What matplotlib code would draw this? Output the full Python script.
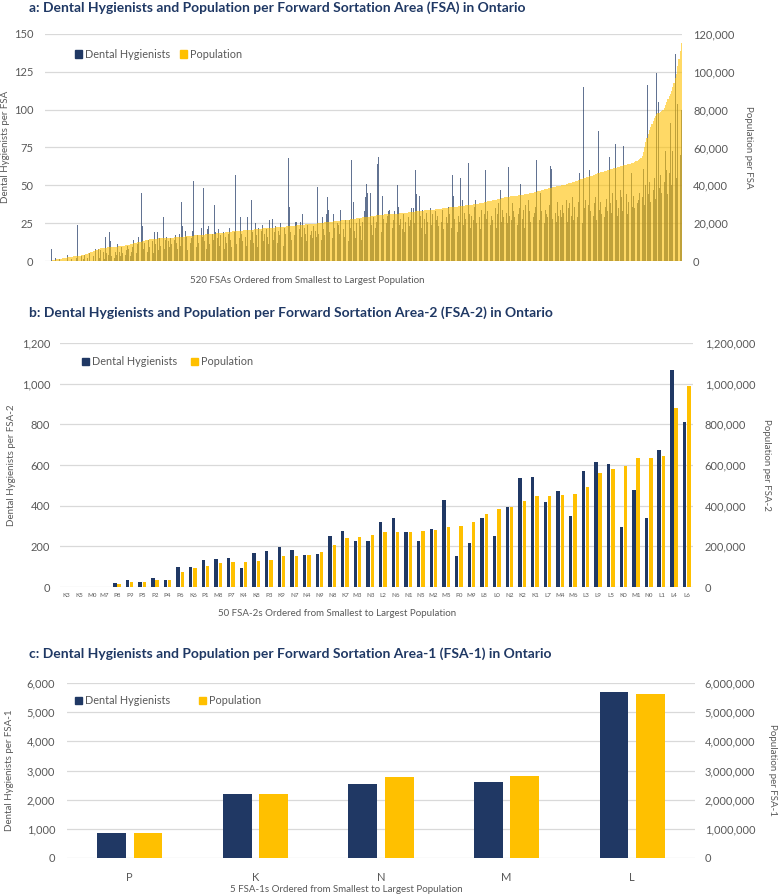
import matplotlib
matplotlib.use("Agg")
import matplotlib.pyplot as plt
import numpy as np
from matplotlib.ticker import FuncFormatter, MultipleLocator

plt.rcParams['font.family'] = ['Lato', 'DejaVu Sans']

NAVY = '#203864'
GOLD = '#FFC000'
TXT = '#595959'
TITLE = '#1F3864'
GRID = '#D9D9D9'

# ---- panel a: 520 FSAs (population in thousands) ----
fsa_pop_k = [
    0.0, 0.0, 0.0, 0.0, 0.1, 0.2, 0.3, 0.5, 0.6, 0.8, 0.9, 1.0, 1.1, 1.3, 1.4, 1.5, 1.6, 1.8, 1.9, 2.0,
    2.1, 2.2, 2.3, 2.4, 2.5, 2.6, 2.7, 2.8, 2.9, 3.0, 3.1, 3.2, 3.4, 3.6, 3.8, 4.0, 4.3, 4.6, 4.9, 5.2,
    5.5, 5.8, 6.0, 6.3, 6.5, 6.7, 6.8, 6.9, 7.0, 7.0, 7.1, 7.2, 7.2, 7.3, 7.3, 7.4, 7.4, 7.5, 7.5, 7.6,
    7.7, 7.8, 7.9, 8.0, 8.1, 8.3, 8.4, 8.6, 8.7, 8.9, 9.0, 9.2, 9.3, 9.5, 9.6, 9.8, 10.0, 10.1, 10.3, 10.5,
    10.6, 10.8, 10.9, 11.1, 11.2, 11.4, 11.5, 11.6, 11.7, 11.7, 11.8, 11.8, 11.9, 11.9, 12.0, 12.0, 12.1, 12.1, 12.2, 12.2,
    12.3, 12.3, 12.4, 12.4, 12.4, 12.5, 12.5, 12.6, 12.6, 12.7, 12.7, 12.8, 12.8, 12.9, 13.0, 13.0, 13.1, 13.2, 13.2, 13.3,
    13.4, 13.4, 13.5, 13.6, 13.6, 13.7, 13.8, 13.8, 13.9, 14.0, 14.0, 14.1, 14.2, 14.2, 14.3, 14.3, 14.4, 14.4, 14.5, 14.5,
    14.6, 14.7, 14.7, 14.8, 14.9, 15.0, 15.0, 15.1, 15.2, 15.3, 15.3, 15.4, 15.5, 15.6, 15.6, 15.7, 15.8, 15.9, 15.9, 16.0,
    16.1, 16.1, 16.2, 16.2, 16.3, 16.3, 16.4, 16.4, 16.5, 16.6, 16.6, 16.7, 16.8, 16.9, 16.9, 17.0, 17.1, 17.2, 17.2, 17.3,
    17.4, 17.4, 17.5, 17.5, 17.6, 17.6, 17.7, 17.7, 17.8, 17.8, 17.9, 17.9, 18.0, 18.0, 18.1, 18.2, 18.2, 18.3, 18.4, 18.5,
    18.5, 18.6, 18.6, 18.7, 18.7, 18.8, 18.9, 18.9, 19.0, 19.1, 19.1, 19.2, 19.3, 19.3, 19.4, 19.5, 19.5, 19.6, 19.7, 19.7,
    19.8, 19.8, 19.9, 20.0, 20.1, 20.1, 20.2, 20.3, 20.4, 20.4, 20.5, 20.6, 20.7, 20.8, 20.8, 20.9, 21.0, 21.1, 21.2, 21.3,
    21.4, 21.4, 21.5, 21.6, 21.7, 21.7, 21.8, 21.8, 21.9, 22.0, 22.1, 22.2, 22.3, 22.4, 22.5, 22.6, 22.7, 22.8, 22.9, 23.0,
    23.1, 23.2, 23.3, 23.4, 23.5, 23.6, 23.7, 23.8, 23.9, 24.0, 24.1, 24.2, 24.3, 24.3, 24.4, 24.5, 24.5, 24.6, 24.6, 24.7,
    24.7, 24.8, 24.8, 24.9, 24.9, 25.0, 25.0, 25.1, 25.1, 25.2, 25.2, 25.3, 25.4, 25.5, 25.6, 25.6, 25.7, 25.8, 25.9, 26.0,
    26.0, 26.1, 26.2, 26.3, 26.3, 26.4, 26.5, 26.6, 26.6, 26.7, 26.8, 26.8, 26.9, 26.9, 27.0, 27.1, 27.2, 27.2, 27.3, 27.4,
    27.5, 27.6, 27.6, 27.7, 27.8, 27.9, 28.0, 28.1, 28.1, 28.2, 28.3, 28.4, 28.5, 28.6, 28.6, 28.7, 28.8, 28.9, 29.0, 29.1,
    29.1, 29.2, 29.3, 29.4, 29.5, 29.6, 29.6, 29.7, 29.8, 29.9, 30.0, 30.1, 30.2, 30.3, 30.4, 30.5, 30.7, 30.9, 31.0, 31.2,
    31.3, 31.5, 31.6, 31.8, 31.9, 32.1, 32.2, 32.4, 32.5, 32.7, 32.8, 33.0, 33.1, 33.3, 33.4, 33.6, 33.7, 33.8, 33.9, 34.0,
    34.1, 34.2, 34.3, 34.4, 34.5, 34.6, 34.7, 34.8, 34.9, 35.0, 35.1, 35.2, 35.3, 35.4, 35.6, 35.7, 35.8, 36.0, 36.1, 36.3,
    36.5, 36.6, 36.8, 37.0, 37.2, 37.4, 37.6, 37.8, 38.0, 38.1, 38.3, 38.5, 38.7, 38.8, 39.0, 39.2, 39.3, 39.5, 39.6, 39.8,
    39.9, 40.0, 40.1, 40.2, 40.4, 40.6, 40.8, 41.0, 41.2, 41.4, 41.6, 41.8, 42.0, 42.2, 42.4, 42.7, 42.9, 43.2, 43.4, 43.7,
    43.9, 44.1, 44.3, 44.5, 44.7, 44.9, 45.1, 45.3, 45.6, 45.9, 46.1, 46.3, 46.6, 46.8, 47.0, 47.2, 47.4, 47.6, 47.8, 48.0,
    48.2, 48.4, 48.6, 48.8, 49.0, 49.2, 49.4, 49.6, 49.8, 50.0, 50.2, 50.4, 50.6, 50.8, 51.0, 51.2, 51.4, 51.5, 51.6, 51.8,
    52.0, 52.3, 52.6, 53.0, 53.4, 53.8, 54.4, 55.5, 57.5, 60.4, 62.8, 65.0, 67.0, 69.0, 71.0, 72.5, 74.0, 75.5, 76.5, 77.5,
    78.0, 78.5, 79.0, 79.4, 79.8, 81.0, 82.5, 84.0, 85.5, 87.0, 88.5, 90.0, 92.0, 94.0, 96.5, 99.0, 103.0, 107.0, 111.0, 115.5,
]

fsa_hyg = [
    0, 0, 5, 0, 0, 8, 21, 0, 2, 0, 0, 1, 0, 0, 0, 3, 0, 0, 4, 0,
    0, 1, 0, 0, 13, 2, 24, 0, 0, 3, 0, 1, 4, 0, 2, 0, 5, 6, 0, 3,
    0, 8, 4, 8, 2, 7, 3, 6, 1, 16, 5, 4, 19, 13, 3, 8, 2, 6, 4, 11,
    6, 3, 9, 5, 2, 4, 7, 10, 8, 3, 6, 9, 14, 70, 5, 11, 16, 9, 45, 23,
    8, 12, 43, 6, 14, 9, 28, 13, 5, 19, 11, 19, 7, 15, 10, 12, 29, 8, 14, 16,
    13, 9, 15, 11, 6, 14, 17, 12, 8, 18, 10, 39, 23, 11, 20, 16, 7, 19, 12, 15,
    20, 53, 14, 9, 17, 12, 20, 22, 16, 48, 13, 8, 21, 23, 11, 25, 18, 14, 37, 19,
    15, 21, 10, 17, 13, 19, 8, 16, 12, 18, 22, 14, 9, 20, 19, 57, 11, 49, 15, 29,
    18, 13, 21, 16, 10, 29, 31, 14, 40, 19, 12, 25, 17, 9, 22, 15, 20, 24, 13, 18,
    21, 16, 11, 27, 29, 28, 14, 19, 23, 12, 20, 17, 25, 15, 10, 22, 18, 38, 68, 36,
    19, 14, 23, 17, 26, 26, 12, 21, 26, 16, 31, 22, 18, 13, 24, 40, 17, 20, 15, 23,
    20, 16, 49, 18, 23, 14, 29, 21, 17, 31, 42, 34, 19, 59, 15, 31, 22, 12, 25, 24,
    18, 34, 66, 21, 16, 27, 36, 13, 27, 22, 67, 39, 20, 15, 25, 18, 28, 23, 14, 26,
    33, 42, 51, 45, 20, 45, 24, 17, 29, 22, 26, 64, 69, 37, 19, 43, 28, 52, 25, 30,
    33, 34, 51, 22, 27, 33, 53, 50, 36, 24, 28, 21, 31, 19, 26, 52, 29, 23, 27, 35,
    35, 25, 60, 44, 61, 43, 30, 22, 34, 28, 18, 32, 26, 29, 35, 24, 31, 20, 33, 27,
    30, 23, 40, 26, 34, 21, 60, 29, 25, 36, 31, 22, 57, 43, 28, 33, 19, 30, 26, 55,
    40, 24, 32, 28, 35, 65, 31, 22, 30, 27, 36, 40, 25, 33, 29, 21, 34, 26, 31, 60,
    28, 33, 36, 24, 30, 27, 74, 35, 22, 31, 38, 47, 26, 34, 29, 61, 32, 25, 62, 30,
    27, 38, 33, 29, 36, 24, 31, 35, 51, 28, 34, 22, 37, 30, 40, 33, 26, 35, 29, 32,
    36, 67, 30, 27, 45, 33, 38, 25, 34, 31, 29, 37, 63, 61, 28, 35, 32, 26, 39, 30,
    34, 29, 37, 32, 31, 40, 26, 35, 38, 30, 42, 27, 36, 33, 29, 39, 58, 31, 25, 115,
    35, 40, 28, 37, 60, 33, 73, 30, 38, 42, 27, 86, 34, 39, 31, 44, 29, 36, 41, 33,
    69, 38, 32, 45, 36, 77, 40, 30, 35, 47, 42, 33, 76, 37, 44, 31, 39, 41, 58, 36,
    43, 35, 48, 38, 40, 45, 94, 42, 61, 37, 50, 116, 44, 52, 39, 102, 47, 55, 41, 124,
    105, 48, 57, 45, 73, 52, 73, 60, 44, 58, 91, 50, 73, 62, 137, 55, 104, 98, 70, 100,
]

# ---- panel b: 50 FSA-2s ----
fsa2_labels = ['K3', 'K5', 'M0', 'M7', 'P8', 'P9', 'P5', 'P2', 'P4', 'P6',
               'K6', 'P1', 'M8', 'P7', 'K4', 'K8', 'P3', 'K9', 'N7', 'N4',
               'N9', 'N8', 'K7', 'M3', 'N3', 'L2', 'N6', 'N1', 'N5', 'M2',
               'M5', 'P0', 'M9', 'L8', 'L0', 'N2', 'K2', 'K1', 'L7', 'M4',
               'M6', 'L3', 'L9', 'L5', 'K0', 'M1', 'N0', 'L1', 'L4', 'L6']
fsa2_hyg = [0, 0, 0, 0, 21, 33, 26, 43, 35, 100,
            97, 131, 138, 145, 94, 168, 176, 196, 182, 156,
            160, 250, 275, 227, 225, 319, 337, 271, 227, 286,
            428, 151, 214, 340, 252, 395, 534, 539, 419, 474,
            350, 571, 613, 604, 294, 475, 340, 674, 1069, 812]
fsa2_pop = [0, 0, 0, 0, 15000, 25000, 26000, 33000, 33000, 76000,
            94000, 104000, 118000, 122000, 122000, 128000, 131000, 151000, 153000, 156000,
            174000, 206000, 243000, 245000, 255000, 271000, 271000, 271000, 276000, 280000,
            294000, 299000, 321000, 358000, 386000, 393000, 423000, 446000, 447000, 452000,
            457000, 492000, 559000, 580000, 595000, 633000, 636000, 645000, 880000, 990000]

# ---- panel c: 5 FSA-1s ----
fsa1_labels = ['P', 'K', 'N', 'M', 'L']
fsa1_hyg = [870, 2200, 2540, 2590, 5680]
fsa1_pop = [860000, 2200000, 2790000, 2800000, 5610000]

W, H = 778, 894
fig = plt.figure(figsize=(W / 100, H / 100), dpi=100)


def px_axes(l, t, r, b):
    return fig.add_axes([l / W, 1 - b / H, (r - l) / W, (b - t) / H])


def style(ax, ax2, lpad, rpad):
    for a in (ax, ax2):
        for s in a.spines.values():
            s.set_visible(False)
        a.tick_params(axis='y', length=0, labelsize=8, labelcolor=TXT)
    ax.tick_params(axis='y', pad=lpad)
    ax2.tick_params(axis='y', pad=rpad)
    ax.tick_params(axis='x', length=0)
    ax.set_axisbelow(True)
    ax.yaxis.grid(True, color=GRID, linewidth=0.9)
    ax.xaxis.grid(False)


comma = FuncFormatter(lambda v, p: f'{v:,.0f}')


def legend(ax, x, y, spacing):
    h1 = plt.Rectangle((0, 0), 1, 1, color=NAVY)
    h2 = plt.Rectangle((0, 0), 1, 1, color=GOLD)
    ax.legend([h1, h2], ['Dental Hygienists', 'Population'], ncol=2, frameon=False,
              loc='upper left', bbox_to_anchor=(x, y), borderaxespad=0, borderpad=0,
              handlelength=0.65, handleheight=0.65, handletextpad=0.3,
              columnspacing=spacing, fontsize=7.8, labelcolor=TXT)


def titles(y, text):
    fig.text(29 / W, 1 - y / H, text, fontsize=10, fontweight='bold', color=TITLE,
             ha='left', va='center')


# panel a
ax = px_axes(45, 34, 682, 261)
ax2 = ax.twinx()
xa = np.arange(len(fsa_hyg))
ax.bar(xa, fsa_hyg, width=0.7, color=NAVY, alpha=0.7, linewidth=0)
ax2.bar(xa, np.array(fsa_pop_k) * 1000, width=1.0, color=GOLD, alpha=0.6, linewidth=0)
ax.set_xlim(-0.5, len(fsa_hyg) - 0.5)
ax.set_ylim(0, 150)
ax2.set_ylim(0, 120000)
ax.yaxis.set_major_locator(MultipleLocator(25))
ax2.yaxis.set_major_locator(MultipleLocator(20000))
ax2.yaxis.set_major_formatter(comma)
ax.set_xticks([])
style(ax, ax2, 8.5, 8)
legend(ax2, 0.047, 0.935, 0.9)
titles(8, 'a: Dental Hygienists and Population per Forward Sortation Area (FSA) in Ontario')
fig.text(6 / W, 1 - 147 / H, 'Dental Hygienists per FSA', rotation=90, fontsize=7,
         color=TXT, ha='center', va='center')
fig.text(749 / W, 1 - 147 / H, 'Population per FSA', rotation=270, fontsize=7,
         color=TXT, ha='center', va='center')
fig.text(307 / W, 1 - 280 / H, '520 FSAs Ordered from Smallest to Largest Population',
         fontsize=7, color=TXT, ha='center', va='center')

# panel b
ax = px_axes(60, 343, 693, 587)
ax2 = ax.twinx()
xb = np.arange(len(fsa2_labels))
ax.bar(xb - 0.17, fsa2_hyg, width=0.27, color=NAVY, linewidth=0)
ax2.bar(xb + 0.17, fsa2_pop, width=0.27, color=GOLD, linewidth=0)
ax.set_xlim(-0.5, len(fsa2_labels) - 0.5)
ax.set_ylim(0, 1200)
ax2.set_ylim(0, 1200000)
ax.yaxis.set_major_locator(MultipleLocator(200))
ax2.yaxis.set_major_locator(MultipleLocator(200000))
ax.yaxis.set_major_formatter(comma)
ax2.yaxis.set_major_formatter(comma)
ax.set_xticks(xb)
ax.set_xticklabels(fsa2_labels, fontsize=4.5, color=TXT)
ax.tick_params(axis='x', pad=4)
style(ax, ax2, 7, 8.5)
legend(ax2, 0.035, 0.945, 1.2)
titles(313, 'b: Dental Hygienists and Population per Forward Sortation Area-2 (FSA-2) in Ontario')
fig.text(12 / W, 1 - 465 / H, 'Dental Hygienists per FSA-2', rotation=90, fontsize=7,
         color=TXT, ha='center', va='center')
fig.text(767 / W, 1 - 465 / H, 'Population per FSA-2', rotation=270, fontsize=7,
         color=TXT, ha='center', va='center')
fig.text(337 / W, 1 - 613 / H, '50 FSA-2s Ordered from Smallest to Largest Population',
         fontsize=7, color=TXT, ha='center', va='center')

# panel c
ax = px_axes(67, 683, 695, 858)
ax2 = ax.twinx()
xc = np.arange(len(fsa1_labels))
ax.bar(xc - 0.145, fsa1_hyg, width=0.23, color=NAVY, linewidth=0)
ax2.bar(xc + 0.145, fsa1_pop, width=0.23, color=GOLD, linewidth=0)
ax.set_xlim(-0.5, len(fsa1_labels) - 0.5)
ax.set_ylim(0, 6000)
ax2.set_ylim(0, 6000000)
ax.yaxis.set_major_locator(MultipleLocator(1000))
ax2.yaxis.set_major_locator(MultipleLocator(1000000))
ax.yaxis.set_major_formatter(comma)
ax2.yaxis.set_major_formatter(comma)
ax.set_xticks(xc)
ax.set_xticklabels(fsa1_labels, fontsize=8, color=TXT)
ax.tick_params(axis='x', pad=10)
style(ax, ax2, 8.5, 7)
legend(ax2, 0.012, 0.93, 2.7)
titles(654, 'c: Dental Hygienists and Population per Forward Sortation Area-1 (FSA-1) in Ontario')
fig.text(10 / W, 1 - 770 / H, 'Dental Hygienists per FSA-1', rotation=90, fontsize=7,
         color=TXT, ha='center', va='center')
fig.text(773 / W, 1 - 770 / H, 'Population per FSA-1', rotation=270, fontsize=7,
         color=TXT, ha='center', va='center')
fig.text(346 / W, 1 - 889 / H, '5 FSA-1s Ordered from Smallest to Largest Population',
         fontsize=7, color=TXT, ha='center', va='center')

fig.savefig('out.png', dpi=100)
